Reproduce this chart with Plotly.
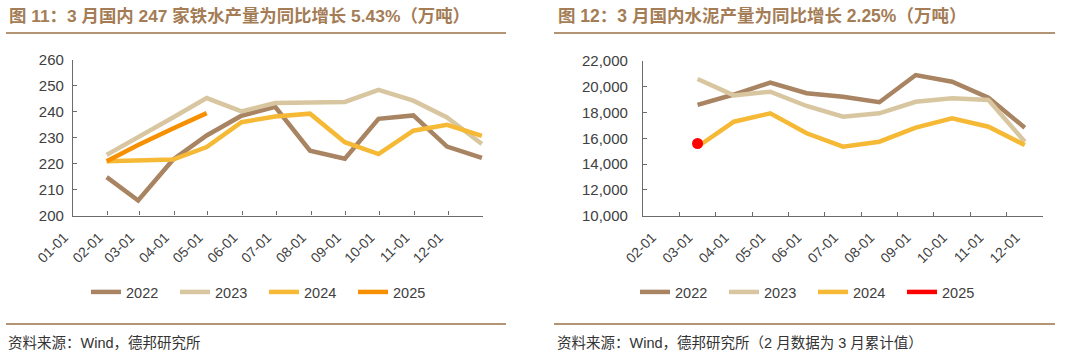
import plotly.graph_objects as go

# ---------------- data ----------------
# Left chart: 247-plant hot metal output (10k t), points at month ends
iron_dates = ["01-31", "02-28", "03-31", "04-30", "05-31", "06-30",
              "07-31", "08-31", "09-30", "10-31", "11-30", "12-31"]
iron_2022 = [214.8, 205.8, 221.5, 230.9, 238.5, 241.9, 225.0, 221.9, 237.3, 238.6, 226.6, 222.2]
iron_2023 = [223.4, 230.0, 237.8, 245.3, 240.2, 243.4, 243.8, 243.8, 248.5, 244.3, 237.8, 227.6]
iron_2024 = [220.9, 221.3, 221.6, 226.4, 236.0, 238.2, 239.3, 228.3, 223.7, 232.7, 235.0, 230.7]
iron_2025 = [220.9, 227.2, 233.6, 239.5]
iron_ticks = ["01-01", "02-01", "03-01", "04-01", "05-01", "06-01",
              "07-01", "08-01", "09-01", "10-01", "11-01", "12-01"]

# Right chart: cement output (10k t)
cement_cats = ["02-01", "03-01", "04-01", "05-01", "06-01", "07-01",
               "08-01", "09-01", "10-01", "11-01", "12-01"]
cement_x = ["03-01", "04-01", "05-01", "06-01", "07-01",
            "08-01", "09-01", "10-01", "11-01", "12-01"]
cement_2022 = [18590, 19400, 20320, 19500, 19230, 18800, 20910, 20390, 19150, 16830]
cement_2023 = [20600, 19330, 19620, 18510, 17680, 17940, 18840, 19110, 18980, 15740]
cement_2024 = [15350, 17290, 17940, 16390, 15350, 15740, 16830, 17550, 16900, 15480]
cement_2025_x = ["03-01"]
cement_2025 = [15600]

years = ["2022", "2023", "2024", "2025"]
colors_left = ["#A88462", "#D8C6A0", "#F5B935", "#F79000"]
colors_right = ["#A88462", "#D8C6A0", "#F5B935", "#FF0000"]

FONT = "Liberation Sans, Arial, Noto Sans CJK SC, sans-serif"
CJK = "Liberation Sans, Noto Sans CJK SC, sans-serif"
TXT = "#404040"
AXC = "#6b6b6b"
BROWN = "#A47C55"
RULE = "#B39474"
W, H = 1080, 358

fig = go.Figure()

def dd(md):
    return "2022-" + md

left_series = [iron_2022, iron_2023, iron_2024, iron_2025]
for name, vals, col in zip(years, left_series, colors_left):
    fig.add_trace(go.Scatter(
        x=[dd(d) for d in iron_dates[:len(vals)]], y=vals, mode="lines", name=name,
        line=dict(color=col, width=4.5), xaxis="x", yaxis="y", legend="legend"))

right_series = [cement_2022, cement_2023, cement_2024]
for name, vals, col in zip(years[:3], right_series, colors_right[:3]):
    fig.add_trace(go.Scatter(
        x=cement_x, y=vals, mode="lines", name=name,
        line=dict(color=col, width=4.5), xaxis="x2", yaxis="y2", legend="legend2"))
fig.add_trace(go.Scatter(
    x=cement_2025_x, y=cement_2025, mode="lines", name=years[3],
    line=dict(color=colors_right[3], width=4.5), xaxis="x2", yaxis="y2", legend="legend2"))
fig.add_trace(go.Scatter(
    x=cement_2025_x, y=cement_2025, mode="markers", showlegend=False,
    marker=dict(color=colors_right[3], size=11), xaxis="x2", yaxis="y2"))

def px_x(p):
    return p / W

def px_y(p):
    return 1 - p / H

axis_common = dict(showgrid=False, zeroline=False, showline=True, linecolor=AXC, linewidth=1.3,
                   ticks="inside", ticklen=4, tickcolor=AXC, tickwidth=1.3, automargin=False)
xfont = dict(family=FONT, size=14, color=TXT)
yfont = dict(family=FONT, size=15, color=TXT)

tick_dates = [dd(t) for t in iron_ticks] + ["2023-01-01"]
fig.update_layout(
    template="none",
    width=W, height=H, margin=dict(l=0, r=0, t=0, b=0, pad=0, autoexpand=False),
    paper_bgcolor="white", plot_bgcolor="white",
    xaxis=dict(domain=[px_x(73), px_x(483)], type="date",
               range=["2022-01-01", "2023-01-01"],
               tickmode="array", tickvals=tick_dates, ticktext=iron_ticks + [""],
               tickangle=-45, anchor="y", tickfont=xfont,
               ticklabelstandoff=7, ticklabelshift=-9, **axis_common),
    yaxis=dict(domain=[px_y(215.5), px_y(60)], range=[200, 260], dtick=10,
               anchor="x", tickfont=yfont, ticklabelstandoff=5, **axis_common),
    xaxis2=dict(domain=[px_x(643), px_x(1043)], type="category",
                categoryorder="array", categoryarray=cement_cats,
                range=[-0.5, len(cement_cats) - 0.5], tickson="boundaries",
                tickangle=-45, anchor="y2", tickfont=xfont,
                ticklabelstandoff=7, ticklabelshift=-9, **axis_common),
    yaxis2=dict(domain=[px_y(215.7), px_y(61)], range=[10000, 22000], dtick=2000,
                tickformat=",d", anchor="x2", tickfont=yfont, ticklabelstandoff=11,
                **axis_common),
    legend=dict(orientation="h", x=px_x(86), y=px_y(292), xanchor="left", yanchor="middle",
                font=dict(family=FONT, size=14.5, color=TXT), entrywidth=44,
                entrywidthmode="pixels", bgcolor="rgba(0,0,0,0)", tracegroupgap=0),
    legend2=dict(orientation="h", x=px_x(635), y=px_y(292), xanchor="left", yanchor="middle",
                 font=dict(family=FONT, size=14.5, color=TXT), entrywidth=44,
                 entrywidthmode="pixels", bgcolor="rgba(0,0,0,0)", tracegroupgap=0),
)

shapes = []
for x0, x1 in [(6, 506), (554, 1055)]:
    for yy, w in [(33, 2), (324, 2)]:
        shapes.append(dict(type="line", xref="paper", yref="paper",
                           x0=px_x(x0), x1=px_x(x1), y0=px_y(yy), y1=px_y(yy),
                           line=dict(color=RULE, width=w)))
fig.update_layout(shapes=shapes)

annots = [
    dict(text="<b>图 11：3 月国内 247 家铁水产量为同比增长 5.43%（万吨）</b>", x=px_x(7), y=px_y(16),
         font=dict(family=CJK, size=17.4, color=BROWN)),
    dict(text="<b>图 12：3 月国内水泥产量为同比增长 2.25%（万吨）</b>", x=px_x(556), y=px_y(16),
         font=dict(family=CJK, size=17.5, color=BROWN)),
    dict(text="资料来源：Wind，德邦研究所", x=px_x(6), y=px_y(343),
         font=dict(family=CJK, size=14.5, color="#333333")),
    dict(text="资料来源：Wind，德邦研究所（2 月数据为 3 月累计值）", x=px_x(555), y=px_y(343),
         font=dict(family=CJK, size=14.5, color="#333333")),
]
for a in annots:
    fig.add_annotation(xref="paper", yref="paper", xanchor="left", yanchor="middle",
                       showarrow=False, **a)

fig.write_html("out.html", config={"displayModeBar": False},
               post_script="document.body.style.margin='0';document.body.style.overflow='hidden';")
